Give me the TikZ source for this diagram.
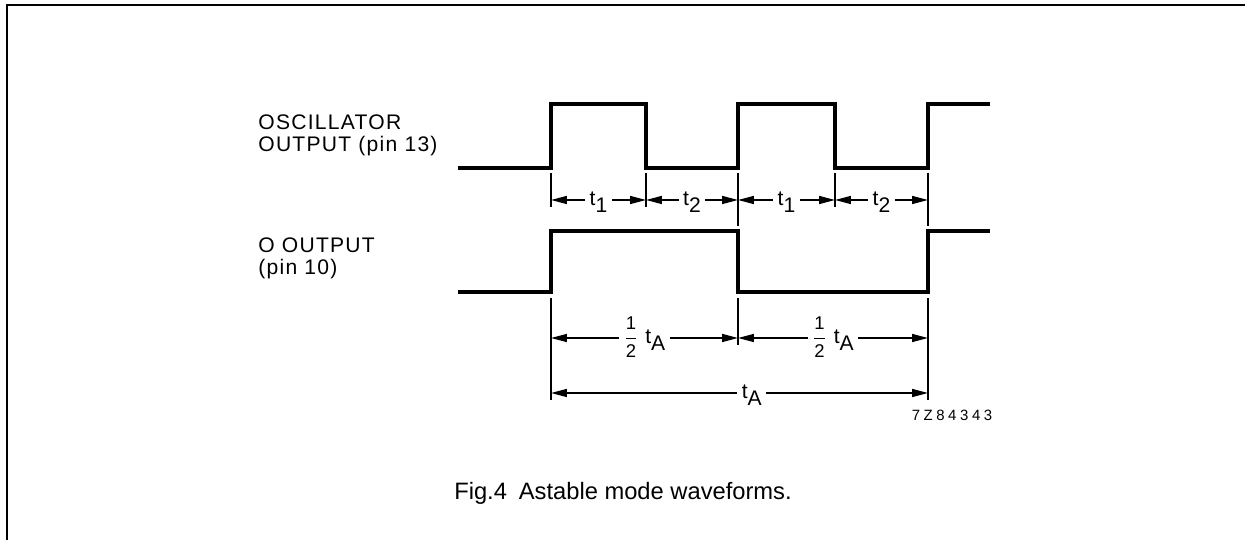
\documentclass[tikz,border=0pt]{standalone}
\usepackage{amsmath}
\usepackage{fontspec}
\setmainfont{Liberation Sans}
\newfontfamily\labelfont[LetterSpace=6]{Liberation Sans}
\newfontfamily\codefont[LetterSpace=24]{Liberation Sans}
\usetikzlibrary{arrows.meta, calc, positioning}
\newcommand{\tsub}[1]{t\raisebox{-4pt}{#1}}
\newcommand{\halfsym}{$\genfrac{}{}{0.5pt}{0}{\text{\fontsize{10.5}{12}\selectfont 1}}{\text{\fontsize{10.5}{12}\selectfont 2}}$}
\tikzset{
  >={Triangle[length=9pt, width=4.5pt]},
  frameline/.style={line width=1.1pt},
  wave/.style={line width=1.8pt, line join=miter},
  tickline/.style={line width=0.8pt},
  dimarrow/.style={<->, line width=0.9pt},
  dimlabel/.style={fill=white, inner sep=2.5pt, anchor=base, yshift=-3pt,
                   font=\labelfont\fontsize{12}{14}\selectfont},
  sigtext/.style={anchor=base west, inner sep=0pt,
                  font=\labelfont\fontsize{12}{14}\selectfont},
}

\begin{document}
\begin{tikzpicture}[x=0.02cm, y=-0.02cm]
  \useasboundingbox (0,0) rectangle (1245,540);

  % ---- Frame ----
  \draw[frameline] (7,540) -- (7,5) -- (1245,5);

  % ---- Oscillator output ----
  \node[sigtext] (osclabel) at (258,130) {OSCILLATOR};
  \node[sigtext] (osclabel2) at ($(osclabel.base west)+(0,22)$) {OUTPUT (pin 13)};
  \draw[wave] (458,168) -- (551,168) -- (551,104) -- (646,104) -- (646,168)
    -- (738,168) -- (738,104) -- (835,104) -- (835,168) -- (928,168)
    -- (928,104) -- (990,104);

  \draw[tickline] (551,173) -- (551,207);
  \draw[tickline] (646,173) -- (646,207);
  \draw[tickline] (738,173) -- (738,226);
  \draw[tickline] (835,173) -- (835,207);
  \draw[tickline] (928,173) -- (928,226);

  \coordinate (ta) at (551,200);
  \coordinate (tb) at (646,200);
  \coordinate (tc) at (738,200);
  \coordinate (td) at (835,200);
  \coordinate (te) at (928,200);

  \draw[dimarrow] (ta) -- (tb) node[dimlabel, midway] (tone1) {\tsub{1}};
  \draw[dimarrow] (tb) -- (tc) node[dimlabel, midway] (ttwo1) {\tsub{2}};
  \draw[dimarrow] (tc) -- (td) node[dimlabel, midway] (tone2) {\tsub{1}};
  \draw[dimarrow] (td) -- (te) node[dimlabel, midway] (ttwo2) {\tsub{2}};

  % ---- Q output ----
  \node[sigtext] (qlabel) at (258,253) {O OUTPUT};
  \node[sigtext] (qlabel2) at ($(qlabel.base west)+(0,22)$) {(pin 10)};
  \draw[wave] (458,292) -- (551,292) -- (551,231) -- (738,231) -- (738,292)
    -- (928,292) -- (928,231) -- (990,231);

  \draw[tickline] (551,298) -- (551,400);
  \draw[tickline] (738,298) -- (738,345);
  \draw[tickline] (928,298) -- (928,400);

  \coordinate (ha) at (551,338);
  \coordinate (hb) at (738,338);
  \coordinate (hc) at (928,338);
  \coordinate (fa) at (551,393);
  \coordinate (fb) at (928,393);

  \draw[dimarrow] (ha) -- (hb)
    node[dimlabel, midway] (half1) {\halfsym\ \tsub{A}};
  \draw[dimarrow] (hb) -- (hc)
    node[dimlabel, midway] (half2) {\halfsym\ \tsub{A}};
  \draw[dimarrow] (fa) -- (fb)
    node[dimlabel, midway, xshift=7pt] (full) {\tsub{A}};

  % ---- Code and caption ----
  \node[font=\codefont\fontsize{8.5}{10}\selectfont, inner sep=0pt]
    (code) at (952,415) {7Z84343};
  \node[font=\fontsize{13.5}{16}\selectfont, inner sep=0pt]
    (caption) at (623,493) {Fig.4\enspace Astable mode waveforms.};

\end{tikzpicture}
\end{document}
